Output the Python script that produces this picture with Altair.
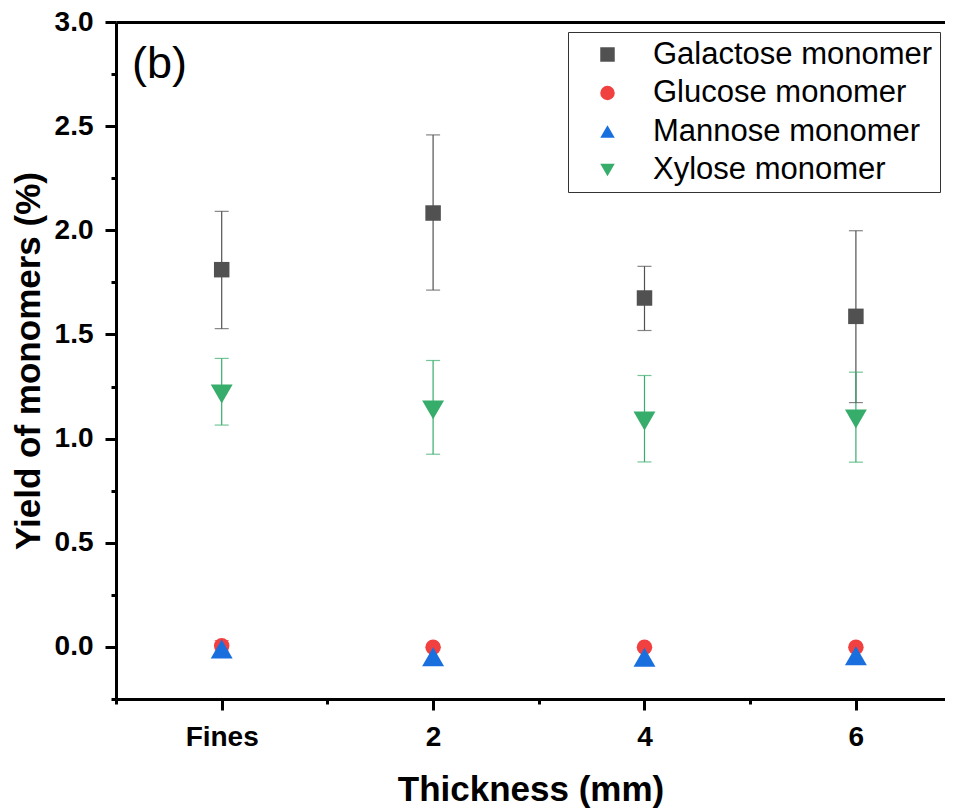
import altair as alt
import pandas as pd

# ---- data ----
thickness_labels = ["Fines", "2", "4", "6"]
thickness_pos = [0, 2, 4, 6]

series_names = ["Galactose monomer", "Glucose monomer", "Mannose monomer", "Xylose monomer"]
series_colors = ["#515151", "#F14040", "#1A6FDF", "#37AD6B"]
series_shapes = ["square", "circle", "triangle-up", "triangle-down"]

galactose = [1.811, 2.083, 1.675, 1.587]
galactose_lo = [1.528, 1.713, 1.519, 1.173]
galactose_hi = [2.091, 2.458, 1.827, 1.998]

glucose = [0.006, -0.002, -0.002, -0.002]
glucose_lo = [-0.02, None, None, None]
glucose_hi = [0.03, None, None, None]

mannose = [-0.01, -0.047, -0.05, -0.042]

xylose = [1.214, 1.138, 1.085, 1.094]
xylose_lo = [1.065, 0.925, 0.888, 0.887]
xylose_hi = [1.385, 1.375, 1.303, 1.319]

x_tick_values = [-1, 0, 1, 2, 3, 4, 5, 6]
y_tick_values = [-0.25, 0.0, 0.25, 0.5, 0.75, 1.0, 1.25, 1.5, 1.75, 2.0, 2.25, 2.5, 2.75, 3.0]

# ---- tables ----
pts_rows = []
for name, vals in zip(series_names, [galactose, glucose, mannose, xylose]):
    for x, v in zip(thickness_pos, vals):
        pts_rows.append({"series": name, "x": x, "y": v})
pts = pd.DataFrame(pts_rows)

err_series = [series_names[0], series_names[1], series_names[3]]
err_colors = [series_colors[0], series_colors[1], series_colors[3]]

err_rows = []
for name, lo, hi in [(series_names[0], galactose_lo, galactose_hi),
                     (series_names[1], glucose_lo, glucose_hi),
                     (series_names[3], xylose_lo, xylose_hi)]:
    for x, l, h in zip(thickness_pos, lo, hi):
        if l is None:
            continue
        err_rows.append({"series": name, "x": x, "lo": l, "hi": h})
err = pd.DataFrame(err_rows)

cap_rows = []
for r in err_rows:
    cap_rows.append({"series": r["series"], "x": r["x"], "y": r["lo"]})
    cap_rows.append({"series": r["series"], "x": r["x"], "y": r["hi"]})
caps = pd.DataFrame(cap_rows)

# ---- scales / axes ----
x_scale = alt.Scale(domain=[-1, 6.843], nice=False, zero=False)
y_scale = alt.Scale(domain=[-0.25, 3.0], nice=False, zero=False)

x_axis_bottom = alt.Axis(
    orient="bottom",
    values=x_tick_values,
    labelExpr="datum.value == 0 ? 'Fines' : (datum.value % 2 == 0 ? datum.label : '')",
    tickSize={"condition": {"test": "datum.value % 2 == 0", "value": 11}, "value": 5},
    labelPadding=13,
    titlePadding=21,
    labelAngle=0,
)
x_axis_top = alt.Axis(orient="top", labels=False, ticks=False, title="")
y_axis = alt.Axis(
    values=y_tick_values,
    labelExpr="datum.value % 0.5 == 0 ? format(datum.value, '.1f') : ''",
    tickSize={"condition": {"test": "datum.value % 0.5 == 0", "value": 11}, "value": 5},
    labelPadding=12,
    titlePadding=8,
)

err_scale = alt.Scale(domain=err_series, range=err_colors)
stroke_enc = alt.Stroke("series:N", scale=err_scale, legend=None)
fill_enc = alt.Fill("series:N", scale=err_scale, legend=None)

legend_kw = dict(title=None, orient="none", legendX=452, legendY=10)

rules = alt.Chart(err).mark_rule(strokeWidth=1.2).encode(
    x=alt.X("x:Q", scale=x_scale, axis=x_axis_top),
    y=alt.Y("lo:Q", scale=y_scale, axis=y_axis, title="Yield of monomers (%)"),
    y2="hi:Q",
    stroke=stroke_enc,
)

cap_layer = alt.Chart(caps).mark_tick(orient="horizontal", size=14, thickness=1.2).encode(
    x=alt.X("x:Q", scale=x_scale, axis=None),
    y=alt.Y("y:Q", scale=y_scale, axis=y_axis, title="Yield of monomers (%)"),
    fill=fill_enc,
)

points = alt.Chart(pts).mark_point(filled=True, opacity=1, strokeWidth=0).encode(
    x=alt.X("x:Q", scale=x_scale, axis=x_axis_bottom, title="Thickness (mm)"),
    y=alt.Y("y:Q", scale=y_scale, axis=y_axis, title="Yield of monomers (%)"),
    color=alt.Color("series:N", scale=alt.Scale(domain=series_names, range=series_colors),
                    legend=alt.Legend(**legend_kw)),
    shape=alt.Shape("series:N", scale=alt.Scale(domain=series_names, range=series_shapes),
                    legend=alt.Legend(**legend_kw)),
    size=alt.condition(
        "datum.series == 'Mannose monomer' || datum.series == 'Xylose monomer'",
        alt.value(480),
        alt.value(240),
    ),
)

panel_label = alt.Chart(pd.DataFrame({"t": ["(b)"]})).mark_text(
    font="Liberation Sans", fontSize=45, align="left", baseline="alphabetic", color="black"
).encode(x=alt.value(16), y=alt.value(56), text="t:N")

chart = alt.layer(rules, cap_layer, points, panel_label).resolve_axis(
    x="independent"
).properties(
    width=829,
    height=677,
    autosize=alt.AutoSizeParams(type="none"),
    padding={"left": 108, "top": 14, "right": 0, "bottom": 110},
).configure_view(
    stroke="transparent"
).configure_axis(
    grid=False,
    domainColor="black",
    domainWidth=3,
    tickColor="black",
    tickWidth=3,
    labelFont="Liberation Sans",
    labelFontWeight="bold",
    labelFontSize=28,
    labelColor="black",
    titleFont="Liberation Sans",
    titleFontWeight="bold",
    titleFontSize=35,
    titleColor="black",
).configure_legend(
    strokeColor="#333333",
    strokeWidth=1,
    fillColor="white",
    padding=7,
    labelFont="Liberation Sans",
    labelFontSize=31,
    labelColor="black",
    labelLimit=500,
    symbolSize=210,
    symbolOffset=17,
    labelOffset=30,
    rowPadding=6.5,
    symbolStrokeWidth=0,
)

chart.save("out.html", embed_options={"renderer": "svg", "actions": False})
